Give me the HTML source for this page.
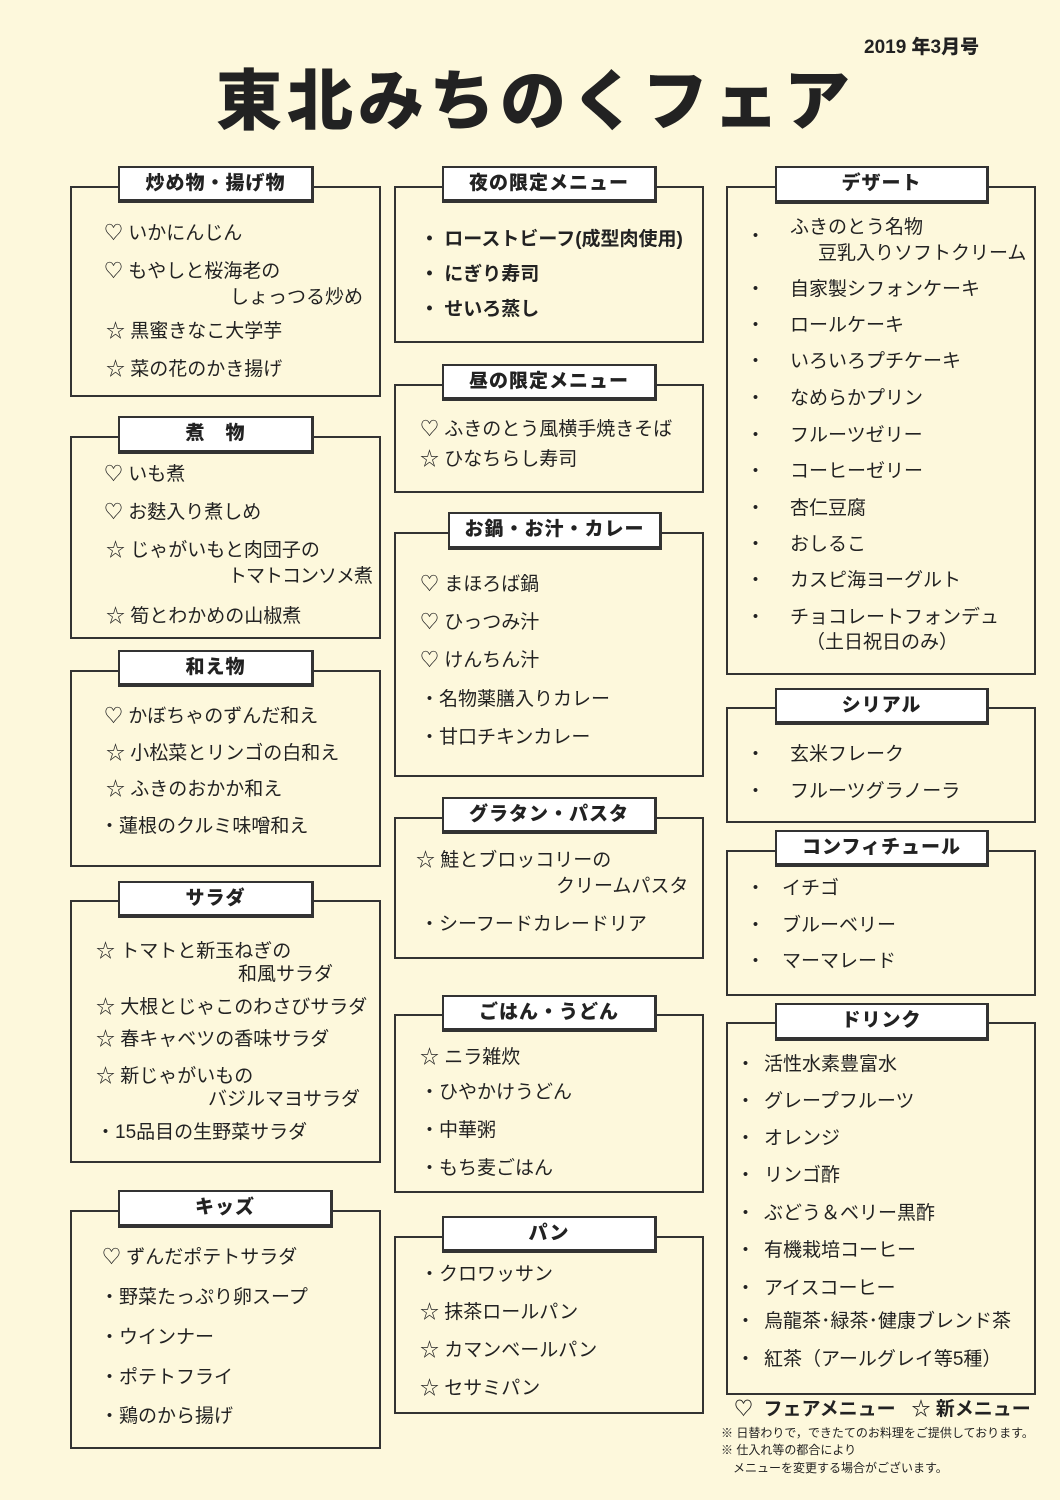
<!DOCTYPE html>
<html><head><meta charset="utf-8"><style>
body{margin:0;background:#fdf8dc;}
#p{position:relative;width:1060px;height:1500px;background:#fdf8dc;overflow:hidden;font-family:"Liberation Sans","Noto Sans CJK JP",sans-serif;color:#222;}
.b{position:absolute;border:2px solid #333;box-sizing:border-box;}
.l{position:absolute;background:#fff;border:2px solid #333;border-right-width:3px;border-bottom-width:4px;box-sizing:border-box;font-weight:900;font-size:19px;text-align:center;line-height:32px;letter-spacing:1px;}
.t{position:absolute;font-size:19px;line-height:24px;white-space:nowrap;}
.bd{font-weight:bold;}
</style></head><body><div id="p">
<div class="t" style="left:864px;top:36px;font-size:19px;font-weight:900;">2019 年3月号</div>
<div class="t" style="left:216px;top:58px;font-size:66px;line-height:86px;font-weight:900;letter-spacing:5px;">東北みちのくフェア</div>

<!-- col1 -->
<div class="b" style="left:70px;top:186px;width:311px;height:211px"></div>
<div class="l" style="left:118px;top:166px;width:196px;height:37px">炒め物・揚げ物</div>
<div class="t" style="left:104px;top:222px">♡ いかにんじん</div>
<div class="t" style="left:104px;top:260px">♡ もやしと桜海老の</div>
<div class="t" style="left:230px;top:286px">しょっつる炒め</div>
<div class="t" style="left:106px;top:320px">☆ 黒蜜きなこ大学芋</div>
<div class="t" style="left:106px;top:358px">☆ 菜の花のかき揚げ</div>

<div class="b" style="left:70px;top:436px;width:311px;height:203px"></div>
<div class="l" style="left:118px;top:416px;width:196px;height:38px">煮　物</div>
<div class="t" style="left:104px;top:463px">♡ いも煮</div>
<div class="t" style="left:104px;top:501px">♡ お麩入り煮しめ</div>
<div class="t" style="left:106px;top:539px">☆ じゃがいもと肉団子の</div>
<div class="t" style="left:228px;top:565px;letter-spacing:-1px">トマトコンソメ煮</div>
<div class="t" style="left:106px;top:605px">☆ 筍とわかめの山椒煮</div>

<div class="b" style="left:70px;top:670px;width:311px;height:197px"></div>
<div class="l" style="left:118px;top:650px;width:196px;height:37px">和え物</div>
<div class="t" style="left:104px;top:705px">♡ かぼちゃのずんだ和え</div>
<div class="t" style="left:106px;top:742px">☆ 小松菜とリンゴの白和え</div>
<div class="t" style="left:106px;top:778px">☆ ふきのおかか和え</div>
<div class="t" style="left:100px;top:815px">・蓮根のクルミ味噌和え</div>

<div class="b" style="left:70px;top:900px;width:311px;height:263px"></div>
<div class="l" style="left:118px;top:881px;width:196px;height:37px">サラダ</div>
<div class="t" style="left:96px;top:940px">☆ トマトと新玉ねぎの</div>
<div class="t" style="left:238px;top:963px">和風サラダ</div>
<div class="t" style="left:96px;top:996px">☆ 大根とじゃこのわさびサラダ</div>
<div class="t" style="left:96px;top:1028px">☆ 春キャベツの香味サラダ</div>
<div class="t" style="left:96px;top:1065px">☆ 新じゃがいもの</div>
<div class="t" style="left:208px;top:1088px">バジルマヨサラダ</div>
<div class="t" style="left:96px;top:1121px">・15品目の生野菜サラダ</div>

<div class="b" style="left:70px;top:1210px;width:311px;height:239px"></div>
<div class="l" style="left:118px;top:1190px;width:215px;height:38px">キッズ</div>
<div class="t" style="left:102px;top:1246px">♡ ずんだポテトサラダ</div>
<div class="t" style="left:100px;top:1286px">・野菜たっぷり卵スープ</div>
<div class="t" style="left:100px;top:1326px">・ウインナー</div>
<div class="t" style="left:100px;top:1366px">・ポテトフライ</div>
<div class="t" style="left:100px;top:1405px">・鶏のから揚げ</div>

<!-- col2 -->
<div class="b" style="left:394px;top:186px;width:310px;height:157px"></div>
<div class="l" style="left:442px;top:166px;width:215px;height:37px">夜の限定メニュー</div>
<div class="t bd" style="left:420px;top:228px">・ ローストビーフ(成型肉使用)</div>
<div class="t bd" style="left:420px;top:263px">・ にぎり寿司</div>
<div class="t bd" style="left:420px;top:298px">・ せいろ蒸し</div>

<div class="b" style="left:394px;top:384px;width:310px;height:109px"></div>
<div class="l" style="left:442px;top:364px;width:215px;height:37px">昼の限定メニュー</div>
<div class="t" style="left:420px;top:418px">♡ ふきのとう風横手焼きそば</div>
<div class="t" style="left:420px;top:448px">☆ ひなちらし寿司</div>

<div class="b" style="left:394px;top:532px;width:310px;height:245px"></div>
<div class="l" style="left:448px;top:512px;width:214px;height:38px">お鍋・お汁・カレー</div>
<div class="t" style="left:420px;top:573px">♡ まほろば鍋</div>
<div class="t" style="left:420px;top:611px">♡ ひっつみ汁</div>
<div class="t" style="left:420px;top:649px">♡ けんちん汁</div>
<div class="t" style="left:420px;top:688px">・名物薬膳入りカレー</div>
<div class="t" style="left:420px;top:726px">・甘口チキンカレー</div>

<div class="b" style="left:394px;top:817px;width:310px;height:142px"></div>
<div class="l" style="left:442px;top:797px;width:215px;height:37px">グラタン・パスタ</div>
<div class="t" style="left:416px;top:849px">☆ 鮭とブロッコリーの</div>
<div class="t" style="left:556px;top:875px">クリームパスタ</div>
<div class="t" style="left:420px;top:913px">・シーフードカレードリア</div>

<div class="b" style="left:394px;top:1014px;width:310px;height:179px"></div>
<div class="l" style="left:442px;top:995px;width:215px;height:37px">ごはん・うどん</div>
<div class="t" style="left:420px;top:1046px">☆ ニラ雑炊</div>
<div class="t" style="left:420px;top:1081px">・ひやかけうどん</div>
<div class="t" style="left:420px;top:1119px">・中華粥</div>
<div class="t" style="left:420px;top:1157px">・もち麦ごはん</div>

<div class="b" style="left:394px;top:1236px;width:310px;height:178px"></div>
<div class="l" style="left:442px;top:1216px;width:215px;height:37px">パン</div>
<div class="t" style="left:420px;top:1263px">・クロワッサン</div>
<div class="t" style="left:420px;top:1301px">☆ 抹茶ロールパン</div>
<div class="t" style="left:420px;top:1339px">☆ カマンベールパン</div>
<div class="t" style="left:420px;top:1377px">☆ セサミパン</div>

<!-- col3 -->
<div class="b" style="left:726px;top:186px;width:310px;height:489px"></div>
<div class="l" style="left:775px;top:166px;width:214px;height:38px">デザート</div>
<div class="t" style="left:746px;top:225px">・</div><div class="t" style="left:790px;top:216px">ふきのとう名物</div>
<div class="t" style="left:818px;top:242px">豆乳入りソフトクリーム</div>
<div class="t" style="left:746px;top:278px">・</div><div class="t" style="left:790px;top:278px">自家製シフォンケーキ</div>
<div class="t" style="left:746px;top:314px">・</div><div class="t" style="left:790px;top:314px">ロールケーキ</div>
<div class="t" style="left:746px;top:350px">・</div><div class="t" style="left:790px;top:350px">いろいろプチケーキ</div>
<div class="t" style="left:746px;top:387px">・</div><div class="t" style="left:790px;top:387px">なめらかプリン</div>
<div class="t" style="left:746px;top:424px">・</div><div class="t" style="left:790px;top:424px">フルーツゼリー</div>
<div class="t" style="left:746px;top:460px">・</div><div class="t" style="left:790px;top:460px">コーヒーゼリー</div>
<div class="t" style="left:746px;top:497px">・</div><div class="t" style="left:790px;top:497px">杏仁豆腐</div>
<div class="t" style="left:746px;top:533px">・</div><div class="t" style="left:790px;top:533px">おしるこ</div>
<div class="t" style="left:746px;top:569px">・</div><div class="t" style="left:790px;top:569px">カスピ海ヨーグルト</div>
<div class="t" style="left:746px;top:606px">・</div><div class="t" style="left:790px;top:606px">チョコレートフォンデュ</div>
<div class="t" style="left:806px;top:631px">（土日祝日のみ）</div>

<div class="b" style="left:726px;top:707px;width:310px;height:116px"></div>
<div class="l" style="left:775px;top:688px;width:214px;height:37px">シリアル</div>
<div class="t" style="left:746px;top:743px">・</div><div class="t" style="left:790px;top:743px">玄米フレーク</div>
<div class="t" style="left:746px;top:780px">・</div><div class="t" style="left:790px;top:780px">フルーツグラノーラ</div>

<div class="b" style="left:726px;top:850px;width:310px;height:146px"></div>
<div class="l" style="left:775px;top:830px;width:214px;height:37px">コンフィチュール</div>
<div class="t" style="left:746px;top:877px">・</div><div class="t" style="left:782px;top:877px">イチゴ</div>
<div class="t" style="left:746px;top:914px">・</div><div class="t" style="left:782px;top:914px">ブルーベリー</div>
<div class="t" style="left:746px;top:950px">・</div><div class="t" style="left:782px;top:950px">マーマレード</div>

<div class="b" style="left:726px;top:1022px;width:310px;height:373px"></div>
<div class="l" style="left:775px;top:1003px;width:214px;height:38px">ドリンク</div>
<div class="t" style="left:736px;top:1053px">・</div><div class="t" style="left:764px;top:1053px">活性水素豊富水</div>
<div class="t" style="left:736px;top:1090px">・</div><div class="t" style="left:764px;top:1090px">グレープフルーツ</div>
<div class="t" style="left:736px;top:1127px">・</div><div class="t" style="left:764px;top:1127px">オレンジ</div>
<div class="t" style="left:736px;top:1164px">・</div><div class="t" style="left:764px;top:1164px">リンゴ酢</div>
<div class="t" style="left:736px;top:1202px">・</div><div class="t" style="left:764px;top:1202px">ぶどう＆ベリー黒酢</div>
<div class="t" style="left:736px;top:1239px">・</div><div class="t" style="left:764px;top:1239px">有機栽培コーヒー</div>
<div class="t" style="left:736px;top:1277px">・</div><div class="t" style="left:764px;top:1277px">アイスコーヒー</div>
<div class="t" style="left:736px;top:1310px">・</div><div class="t" style="left:764px;top:1310px">烏龍茶･緑茶･健康ブレンド茶</div>
<div class="t" style="left:736px;top:1348px">・</div><div class="t" style="left:764px;top:1348px">紅茶（アールグレイ等5種）</div>

<div class="t bd" style="left:734px;top:1398px">♡&nbsp; フェアメニュー&nbsp;&nbsp; ☆ 新メニュー</div>
<div class="t" style="left:721px;top:1425px;font-size:12px;line-height:16px">※ 日替わりで，できたてのお料理をご提供しております。</div>
<div class="t" style="left:721px;top:1442px;font-size:12px;line-height:16px">※ 仕入れ等の都合により</div>
<div class="t" style="left:733px;top:1460px;font-size:12px;line-height:16px">メニューを変更する場合がございます。</div>
</div></body></html>
